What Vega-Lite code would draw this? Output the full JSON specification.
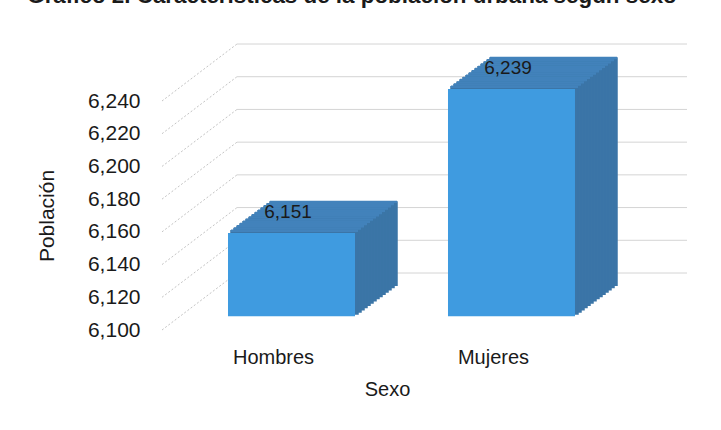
{
  "$schema": "https://vega.github.io/schema/vega-lite/v6.json",
  "width": 450,
  "height": 229,
  "autosize": {"type": "none"},
  "padding": {"left": 162, "top": 101, "right": 109, "bottom": 100},
  "background": "white",
  "title": {
    "text": "Gráfico 2. Características de la población urbana según sexo",
    "font": "Liberation Sans",
    "fontSize": 22.4,
    "fontWeight": "bold",
    "color": "#1a1a1a",
    "anchor": "middle",
    "frame": "group",
    "baseline": "alphabetic",
    "offset": 18.5,
    "dx": -35
  },
  "config": {
    "view": {"stroke": null},
    "axisY": {
      "title": "Población",
      "values": [6100, 6120, 6140, 6160, 6180, 6200, 6220, 6240],
      "format": ",d", "grid": false, "ticks": false, "domain": false,
      "labelFont": "Liberation Sans", "labelFontSize": 21, "labelColor": "#1a1a1a", "labelPadding": 22,
      "titleFont": "Liberation Sans", "titleFontSize": 21, "titleFontWeight": "normal", "titleColor": "#1a1a1a", "titlePadding": 30
    }
  },
  "datasets": {
    "bars": [
      {"sexo": "Hombres", "poblacion": 6151},
      {"sexo": "Mujeres", "poblacion": 6239}
    ],
    "ticks": [
      {"v": 6100}, {"v": 6120}, {"v": 6140}, {"v": 6160},
      {"v": 6180}, {"v": 6200}, {"v": 6220}, {"v": 6240}
    ]
  },
  "resolve": {"scale": {"x": "independent"}},
  "layer": [
    {
      "data": {"name": "ticks"},
      "encoding": {
        "y": {"field": "v", "type": "quantitative", "scale": {"domain": [6100, 6240], "nice": false, "zero": false}, "title": "Población"},
        "y2": {"field": "v"}
      },
      "layer": [
        {
          "mark": {"type": "rule", "color": "#c4c4c4", "strokeWidth": 1, "strokeDash": [2, 2], "x2Offset": 75, "y2Offset": -57},
          "encoding": {
            "x": {"datum": 0, "type": "quantitative", "scale": {"domain": [0, 1]}, "axis": null},
            "x2": {"datum": 0}
          }
        },
        {
          "mark": {"type": "rule", "color": "#d4d4d4", "strokeWidth": 1, "xOffset": 75, "x2Offset": 75, "yOffset": -57, "y2Offset": -57},
          "encoding": {
            "x": {"datum": 0, "type": "quantitative", "scale": {"domain": [0, 1]}, "axis": null},
            "x2": {"datum": 1}
          }
        }
      ]
    },
    {
      "data": {"name": "bars"},
      "encoding": {
        "x": {
          "field": "sexo", "type": "nominal", "sort": null,
          "scale": {"paddingInner": 0.4227, "paddingOuter": 0.2341, "align": 0.466},
          "axis": {
            "title": "Sexo", "labelAngle": 0, "ticks": false, "domain": false,
            "labelFont": "Liberation Sans", "labelFontSize": 20, "labelColor": "#1a1a1a", "labelPadding": 17,
            "titleFont": "Liberation Sans", "titleFontSize": 20, "titleFontWeight": "normal", "titleColor": "#1a1a1a", "titlePadding": 12
          }
        },
        "y": {
          "field": "poblacion", "type": "quantitative",
          "scale": {"domain": [6100, 6240], "nice": false, "zero": false},
          "title": "Población"
        }
      },
      "layer": [
        {"mark": {"type": "bar", "fill": "#3b75a7", "stroke": "#3b75a7", "strokeWidth": 1.5, "xOffset": 60, "x2Offset": 60, "yOffset": -44.7, "y2Offset": -44.7}, "encoding": {"y2": {"datum": 6100}}},
        {"mark": {"type": "bar", "fill": "#3b75a7", "stroke": "#3b75a7", "strokeWidth": 1.5, "xOffset": 57, "x2Offset": 57, "yOffset": -42.5, "y2Offset": -42.5}, "encoding": {"y2": {"datum": 6100}}},
        {"mark": {"type": "bar", "fill": "#3b75a7", "stroke": "#3b75a7", "strokeWidth": 1.5, "xOffset": 54, "x2Offset": 54, "yOffset": -40.3, "y2Offset": -40.3}, "encoding": {"y2": {"datum": 6100}}},
        {"mark": {"type": "bar", "fill": "#3b75a7", "stroke": "#3b75a7", "strokeWidth": 1.5, "xOffset": 51, "x2Offset": 51, "yOffset": -38.1, "y2Offset": -38.1}, "encoding": {"y2": {"datum": 6100}}},
        {"mark": {"type": "bar", "fill": "#3b75a7", "stroke": "#3b75a7", "strokeWidth": 1.5, "xOffset": 48, "x2Offset": 48, "yOffset": -35.8, "y2Offset": -35.8}, "encoding": {"y2": {"datum": 6100}}},
        {"mark": {"type": "bar", "fill": "#3b75a7", "stroke": "#3b75a7", "strokeWidth": 1.5, "xOffset": 45, "x2Offset": 45, "yOffset": -33.6, "y2Offset": -33.6}, "encoding": {"y2": {"datum": 6100}}},
        {"mark": {"type": "bar", "fill": "#3b75a7", "stroke": "#3b75a7", "strokeWidth": 1.5, "xOffset": 42, "x2Offset": 42, "yOffset": -31.4, "y2Offset": -31.4}, "encoding": {"y2": {"datum": 6100}}},
        {"mark": {"type": "bar", "fill": "#3b75a7", "stroke": "#3b75a7", "strokeWidth": 1.5, "xOffset": 39, "x2Offset": 39, "yOffset": -29.2, "y2Offset": -29.2}, "encoding": {"y2": {"datum": 6100}}},
        {"mark": {"type": "bar", "fill": "#3b75a7", "stroke": "#3b75a7", "strokeWidth": 1.5, "xOffset": 36, "x2Offset": 36, "yOffset": -27.0, "y2Offset": -27.0}, "encoding": {"y2": {"datum": 6100}}},
        {"mark": {"type": "bar", "fill": "#3b75a7", "stroke": "#3b75a7", "strokeWidth": 1.5, "xOffset": 33, "x2Offset": 33, "yOffset": -24.8, "y2Offset": -24.8}, "encoding": {"y2": {"datum": 6100}}},
        {"mark": {"type": "bar", "fill": "#3b75a7", "stroke": "#3b75a7", "strokeWidth": 1.5, "xOffset": 30, "x2Offset": 30, "yOffset": -22.6, "y2Offset": -22.6}, "encoding": {"y2": {"datum": 6100}}},
        {"mark": {"type": "bar", "fill": "#3b75a7", "stroke": "#3b75a7", "strokeWidth": 1.5, "xOffset": 27, "x2Offset": 27, "yOffset": -20.3, "y2Offset": -20.3}, "encoding": {"y2": {"datum": 6100}}},
        {"mark": {"type": "bar", "fill": "#3b75a7", "stroke": "#3b75a7", "strokeWidth": 1.5, "xOffset": 24, "x2Offset": 24, "yOffset": -18.1, "y2Offset": -18.1}, "encoding": {"y2": {"datum": 6100}}},
        {"mark": {"type": "bar", "fill": "#3b75a7", "stroke": "#3b75a7", "strokeWidth": 1.5, "xOffset": 21, "x2Offset": 21, "yOffset": -15.9, "y2Offset": -15.9}, "encoding": {"y2": {"datum": 6100}}},
        {"mark": {"type": "bar", "fill": "#4282bb", "stroke": "#4282bb", "strokeWidth": 2.4, "xOffset": 60, "x2Offset": 60, "yOffset": -44.7, "y2Offset": -44.7}, "encoding": {"y2": {"field": "poblacion"}}},
        {"mark": {"type": "bar", "fill": "#4282bb", "stroke": "#4282bb", "strokeWidth": 2.4, "xOffset": 57, "x2Offset": 57, "yOffset": -42.5, "y2Offset": -42.5}, "encoding": {"y2": {"field": "poblacion"}}},
        {"mark": {"type": "bar", "fill": "#4282bb", "stroke": "#4282bb", "strokeWidth": 2.4, "xOffset": 54, "x2Offset": 54, "yOffset": -40.3, "y2Offset": -40.3}, "encoding": {"y2": {"field": "poblacion"}}},
        {"mark": {"type": "bar", "fill": "#4282bb", "stroke": "#4282bb", "strokeWidth": 2.4, "xOffset": 51, "x2Offset": 51, "yOffset": -38.1, "y2Offset": -38.1}, "encoding": {"y2": {"field": "poblacion"}}},
        {"mark": {"type": "bar", "fill": "#4282bb", "stroke": "#4282bb", "strokeWidth": 2.4, "xOffset": 48, "x2Offset": 48, "yOffset": -35.8, "y2Offset": -35.8}, "encoding": {"y2": {"field": "poblacion"}}},
        {"mark": {"type": "bar", "fill": "#4282bb", "stroke": "#4282bb", "strokeWidth": 2.4, "xOffset": 45, "x2Offset": 45, "yOffset": -33.6, "y2Offset": -33.6}, "encoding": {"y2": {"field": "poblacion"}}},
        {"mark": {"type": "bar", "fill": "#4282bb", "stroke": "#4282bb", "strokeWidth": 2.4, "xOffset": 42, "x2Offset": 42, "yOffset": -31.4, "y2Offset": -31.4}, "encoding": {"y2": {"field": "poblacion"}}},
        {"mark": {"type": "bar", "fill": "#4282bb", "stroke": "#4282bb", "strokeWidth": 2.4, "xOffset": 39, "x2Offset": 39, "yOffset": -29.2, "y2Offset": -29.2}, "encoding": {"y2": {"field": "poblacion"}}},
        {"mark": {"type": "bar", "fill": "#4282bb", "stroke": "#4282bb", "strokeWidth": 2.4, "xOffset": 36, "x2Offset": 36, "yOffset": -27.0, "y2Offset": -27.0}, "encoding": {"y2": {"field": "poblacion"}}},
        {"mark": {"type": "bar", "fill": "#4282bb", "stroke": "#4282bb", "strokeWidth": 2.4, "xOffset": 33, "x2Offset": 33, "yOffset": -24.8, "y2Offset": -24.8}, "encoding": {"y2": {"field": "poblacion"}}},
        {"mark": {"type": "bar", "fill": "#4282bb", "stroke": "#4282bb", "strokeWidth": 2.4, "xOffset": 30, "x2Offset": 30, "yOffset": -22.6, "y2Offset": -22.6}, "encoding": {"y2": {"field": "poblacion"}}},
        {"mark": {"type": "bar", "fill": "#4282bb", "stroke": "#4282bb", "strokeWidth": 2.4, "xOffset": 27, "x2Offset": 27, "yOffset": -20.3, "y2Offset": -20.3}, "encoding": {"y2": {"field": "poblacion"}}},
        {"mark": {"type": "bar", "fill": "#4282bb", "stroke": "#4282bb", "strokeWidth": 2.4, "xOffset": 24, "x2Offset": 24, "yOffset": -18.1, "y2Offset": -18.1}, "encoding": {"y2": {"field": "poblacion"}}},
        {"mark": {"type": "bar", "fill": "#4282bb", "stroke": "#4282bb", "strokeWidth": 2.4, "xOffset": 21, "x2Offset": 21, "yOffset": -15.9, "y2Offset": -15.9}, "encoding": {"y2": {"field": "poblacion"}}},
        {"mark": {"type": "bar", "color": "#3f9be0", "xOffset": 18, "x2Offset": 18, "yOffset": -13.7, "y2Offset": -13.7}, "encoding": {"y2": {"datum": 6100}}},
        {
          "mark": {"type": "text", "font": "Liberation Sans", "fontSize": 19, "color": "#1a1a1a", "baseline": "middle", "align": "center", "dx": 14.5, "dy": -35},
          "encoding": {"text": {"field": "poblacion", "type": "quantitative", "format": ",d"}}
        }
      ]
    }
  ]
}
